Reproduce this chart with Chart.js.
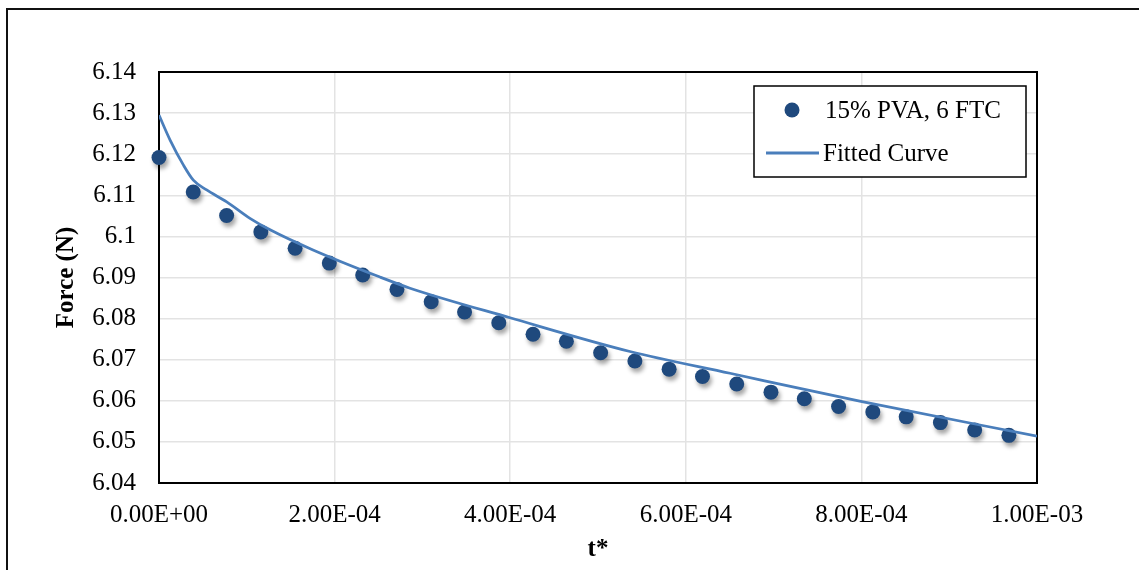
<!DOCTYPE html>
<html>
<head>
<meta charset="utf-8">
<script src="https://cdn.jsdelivr.net/npm/chart.js@4.4.1/dist/chart.umd.min.js"></script>
<style>
    html, body { margin: 0; padding: 0; background: #fff; overflow: hidden; }
    #wrap { position: relative; width: 1139px; height: 570px; }
    #frame { position: absolute; left: 6px; top: 8px; width: 2000px; height: 2000px;
             border-left: 2px solid #111; border-top: 2px solid #111; pointer-events: none; }
    canvas { position: absolute; left: 0; top: 0; }
</style>
</head>
<body>
<div id="wrap">
    <canvas id="chart" width="1139" height="570"></canvas>
    <div id="frame"></div>
</div>
<script>
// measured points (t*, force)
const dotT = [0, 3.9e-5, 7.7e-5, 1.16e-4, 1.55e-4, 1.94e-4, 2.32e-4, 2.71e-4, 3.10e-4, 3.48e-4,
    3.87e-4, 4.26e-4, 4.64e-4, 5.03e-4, 5.42e-4, 5.81e-4, 6.19e-4, 6.58e-4, 6.97e-4, 7.35e-4,
    7.74e-4, 8.13e-4, 8.51e-4, 8.90e-4, 9.29e-4, 9.68e-4];
const dotForce = [6.1192, 6.1108, 6.1051, 6.1011, 6.0971, 6.0935, 6.0906, 6.0871, 6.0841, 6.0816,
    6.0790, 6.0762, 6.0745, 6.0717, 6.0697, 6.0677, 6.0659, 6.0641, 6.0621, 6.0605,
    6.0586, 6.0573, 6.0561, 6.0547, 6.0529, 6.0516];

// fitted curve
const curveT = [0, 1.25e-5, 2.77e-5, 3.91e-5, 5.43e-5, 7.71e-5, 1.036e-4, 1.265e-4, 1.754e-4,
    2.517e-4, 2.859e-4, 3.998e-4, 5.364e-4, 6.503e-4, 8.007e-4, 1.0e-3];
const curveForce = [6.1295, 6.1235, 6.1174, 6.1137, 6.1113, 6.1084, 6.1044, 6.1016, 6.0967,
    6.0901, 6.0874, 6.0802, 6.0720, 6.0667, 6.0598, 6.0514];

const seriesLabels = ['15% PVA, 6 FTC', 'Fitted Curve'];
const xMin = 0, xMax = 1e-3, xStep = 2e-4;
const yMin = 6.04, yMax = 6.14, yStep = 0.01;

const dotColor = '#1F497D';
const lineColor = '#4A7EBB';
const fontFamily = "'Liberation Serif', 'Times New Roman', serif";

function sciLabel(v) {
    const parts = Number(v).toExponential(2).split('e');
    const sign = parts[1][0];
    const digits = parts[1].slice(1).padStart(2, '0');
    return parts[0] + 'E' + sign + digits;
}

// grey drop shadow under the markers, like the Excel original
const dotShadow = {
    id: 'dotShadow',
    beforeDatasetDraw(chart, args) {
        if (args.index !== 0) return;
        const ctx = chart.ctx;
        ctx.save();
        ctx.shadowColor = 'rgba(0,0,0,0.35)';
        ctx.shadowOffsetX = 2;
        ctx.shadowOffsetY = 4;
        ctx.shadowBlur = 4;
    },
    afterDatasetDraw(chart, args) {
        if (args.index === 0) chart.ctx.restore();
    }
};

// black box round the plot area
const plotFrame = {
    id: 'plotFrame',
    beforeDatasetsDraw(chart) {
        const { ctx, chartArea: a } = chart;
        ctx.save();
        ctx.strokeStyle = '#000';
        ctx.lineWidth = 2;
        ctx.strokeRect(a.left, a.top, a.right - a.left, a.bottom - a.top);
        ctx.restore();
    }
};

// boxed legend in the upper right
const boxLegend = {
    id: 'boxLegend',
    afterDraw(chart) {
        const ctx = chart.ctx;
        const ds = chart.data.datasets;
        ctx.save();
        ctx.fillStyle = '#fff';
        ctx.fillRect(754, 86, 272, 91);
        ctx.strokeStyle = '#000';
        ctx.lineWidth = 1.5;
        ctx.strokeRect(754, 86, 272, 91);

        ctx.fillStyle = ds[0].backgroundColor;
        ctx.beginPath();
        ctx.arc(792, 110, 7.5, 0, Math.PI * 2);
        ctx.fill();

        ctx.strokeStyle = ds[1].borderColor;
        ctx.lineWidth = 3;
        ctx.beginPath();
        ctx.moveTo(766, 153);
        ctx.lineTo(819, 153);
        ctx.stroke();

        ctx.fillStyle = '#000';
        ctx.font = '25px ' + fontFamily;
        ctx.textBaseline = 'middle';
        ctx.textAlign = 'left';
        ctx.fillText(ds[0].label, 825, 111);
        ctx.fillText(ds[1].label, 823, 154);
        ctx.restore();
    }
};

const ctx = document.getElementById('chart').getContext('2d');
new Chart(ctx, {
    type: 'scatter',
    data: {
        datasets: [{
            label: seriesLabels[0],
            data: dotT.map((t, i) => ({ x: t, y: dotForce[i] })),
            backgroundColor: dotColor,
            borderColor: dotColor,
            pointRadius: 7.5,
            pointBorderWidth: 0,
            clip: false,
            order: 2
        }, {
            type: 'line',
            label: seriesLabels[1],
            data: curveT.map((t, i) => ({ x: t, y: curveForce[i] })),
            borderColor: lineColor,
            borderWidth: 2.75,
            pointRadius: 0,
            cubicInterpolationMode: 'monotone',
            fill: false,
            order: 1
        }]
    },
    options: {
        responsive: false,
        animation: false,
        devicePixelRatio: 1,
        layout: { padding: { left: 0, top: 72, right: 102, bottom: 0 } },
        plugins: {
            legend: { display: false },
            tooltip: { enabled: false }
        },
        scales: {
            x: {
                type: 'linear',
                min: xMin,
                max: xMax,
                afterFit: (s) => { s.height = 87; },
                grid: { color: '#e3e3e3', lineWidth: 1.5, drawTicks: false },
                border: { display: false },
                ticks: {
                    stepSize: xStep,
                    autoSkip: false,
                    maxRotation: 0,
                    padding: 17,
                    color: '#000',
                    font: { family: fontFamily, size: 25 },
                    callback: (v) => sciLabel(v)
                },
                title: {
                    display: true,
                    text: 't*',
                    color: '#000',
                    font: { family: fontFamily, size: 25, weight: 'bold' },
                    padding: { top: 0, bottom: 5 }
                }
            },
            y: {
                min: yMin,
                max: yMax,
                afterFit: (s) => { s.width = 159; },
                grid: { color: '#e3e3e3', lineWidth: 1.5, drawTicks: false },
                border: { display: false },
                ticks: {
                    stepSize: yStep,
                    padding: 23,
                    color: '#000',
                    font: { family: fontFamily, size: 25 },
                    callback: (v) => String(parseFloat(Number(v).toFixed(2)))
                },
                title: {
                    display: true,
                    text: 'Force (N)',
                    color: '#000',
                    font: { family: fontFamily, size: 25, weight: 'bold' },
                    padding: { top: 52, bottom: 0 }
                }
            }
        }
    },
    plugins: [dotShadow, plotFrame, boxLegend]
});
</script>
</body>
</html>
